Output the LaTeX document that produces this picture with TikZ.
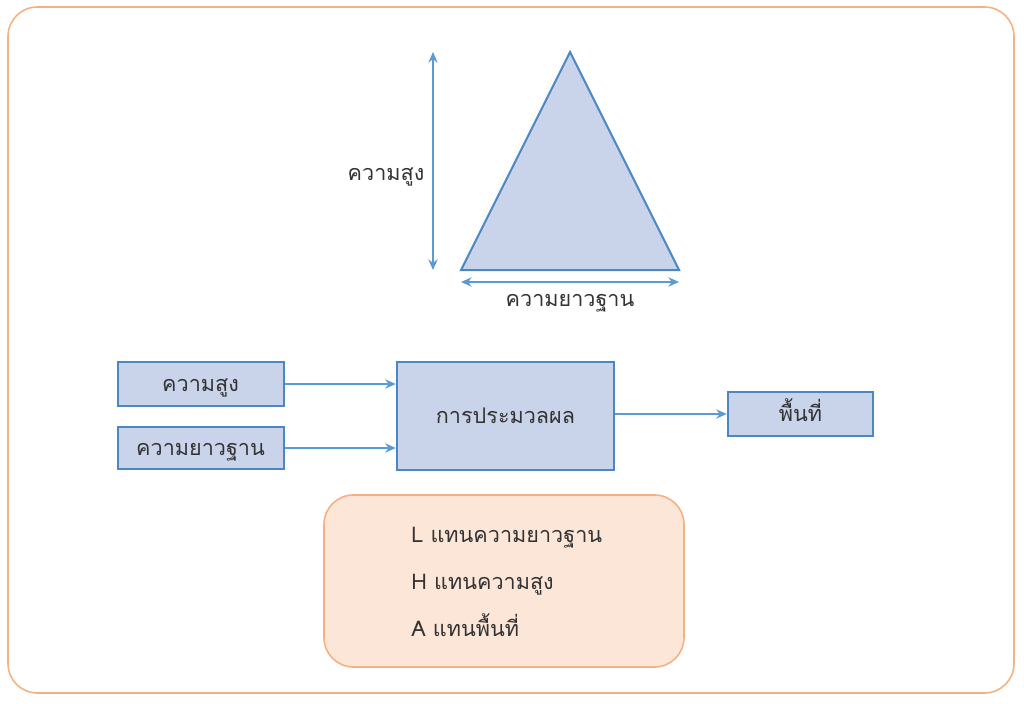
\documentclass[tikz,border=0pt]{standalone}
\usepackage{fontspec}
\setmainfont[Script=Thai]{Loma}
\usetikzlibrary{arrows.meta}
\definecolor{frameor}{HTML}{F4B183}
\definecolor{legfill}{HTML}{FCE6D8}
\definecolor{bfill}{HTML}{C9D4EA}
\definecolor{bline}{HTML}{4B87C2}
\definecolor{aline}{HTML}{5B9BD5}
\tikzset{
  px/.style={x=0.75pt,y=-0.75pt},
  blk/.style={draw=bline,line width=1.5pt,fill=bfill,inner sep=0pt},
  conn/.style={draw=aline,line width=1pt,-{Stealth[length=8pt,width=7pt]}},
  dim/.style={draw=aline,line width=1pt,{Stealth[length=8pt,width=7pt]}-{Stealth[length=8pt,width=7pt]}},
  lbl/.style={font=\fontsize{16.2}{18}\selectfont,text=black!80,text height=14pt,text depth=3pt},
}
\begin{document}
\begin{tikzpicture}[px]
\useasboundingbox (0,0) rectangle (1024,703);
\draw[frameor,line width=1.2pt,rounded corners=22pt] (8,7) rectangle (1014,693);
% triangle
\coordinate (apex) at (570,52);
\coordinate (bl) at (461,270);
\coordinate (br) at (679,270);
\draw[blk,line join=miter] (apex) -- (bl) -- (br) -- cycle;
\coordinate (vt) at (433,52);
\coordinate (vb) at (433,270);
\draw[dim] (vt) -- (vb);
\coordinate (hl) at (461,282);
\coordinate (hr) at (679,282);
\draw[dim] (hl) -- (hr);
\node[lbl] (hlab) at (386,173) {ความสูง};
\node[lbl] (blab) at (570,299) {ความยาวฐาน};
% blocks
\node[blk,minimum width=124.5pt,minimum height=33pt,lbl] (h) at (200.5,384) {ความสูง};
\node[blk,minimum width=124.5pt,minimum height=32pt,lbl] (l) at (200.5,448) {ความยาวฐาน};
\node[blk,minimum width=163pt,minimum height=81pt,lbl] (p) at (505.5,416) {การประมวลผล};
\node[blk,minimum width=109pt,minimum height=33pt,lbl] (a) at (800.5,414) {พื้นที่};
\draw[conn] (h.east) -- (h.east -| p.west);
\draw[conn] (l.east) -- (l.east -| p.west);
\draw[conn] (p.east |- a.west) -- (a.west);
% legend
\draw[frameor,fill=legfill,line width=1.2pt,rounded corners=22pt] (324,495) rectangle (684,667);
\node[lbl,anchor=west,inner xsep=0pt] (t1) at (411,535) {L แทนความยาวฐาน};
\node[lbl,anchor=west,inner xsep=0pt] (t2) at (411,582) {H แทนความสูง};
\node[lbl,anchor=west,inner xsep=0pt] (t3) at (411,629) {A แทนพื้นที่};
\end{tikzpicture}
\end{document}
